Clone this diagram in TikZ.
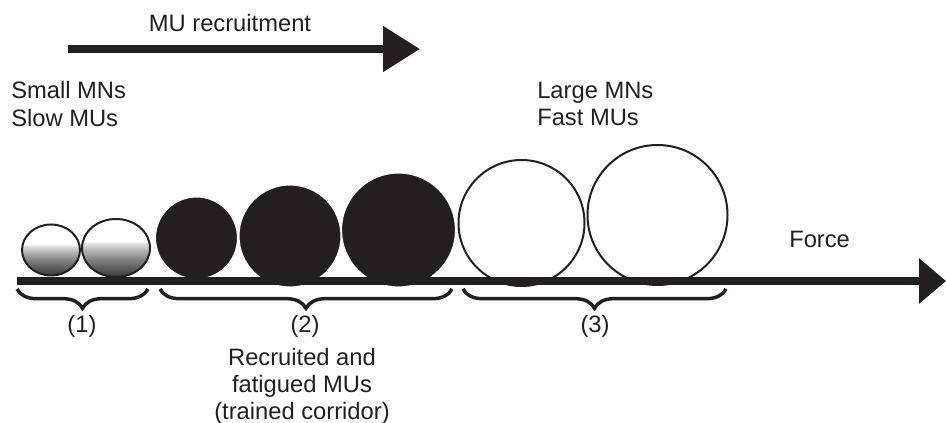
\documentclass[tikz,border=0pt]{standalone}
\usepackage{fontspec}
\setmainfont{Liberation Sans}
\usepackage{xcolor}
\definecolor{muDark}{HTML}{231F20}
\usetikzlibrary{arrows.meta,shapes.geometric,decorations.pathreplacing}
\pgfdeclareverticalshading{muGrad}{100bp}{color(0bp)=(black!78); color(25bp)=(black!78); color(40bp)=(black!50); color(53bp)=(black!15); color(56bp)=(white); color(100bp)=(white)}
\tikzset{
  txt/.style={inner sep=0pt, font=\fontsize{17.8}{20.5}\selectfont, text=muDark},
  slowmu/.style={ellipse, draw=muDark, line width=1.5pt, shade, shading=muGrad, inner sep=0pt},
  fatiguedmu/.style={circle, draw=white, line width=0.8pt, fill=muDark, inner sep=0pt},
  fastmu/.style={circle, draw=muDark, line width=1.5pt, fill=white, inner sep=0pt},
  grpbrace/.style={draw=muDark, line width=2.6pt, decorate, decoration={brace, mirror, amplitude=14.5pt}},
  bigarrow/.style={draw=muDark, line width=6pt, -{Triangle[length=#1, width=33pt]}}
}

\begin{document}
\begin{tikzpicture}[x=0.75pt, y=-0.75pt]
  \useasboundingbox (0,0) rectangle (946,423);
  % recruitment arrow
  \coordinate (recstart) at (68,49);
  \coordinate (recend) at (420,49);
  \draw[bigarrow=27.75pt] (recstart) -- (recend);
  \node[txt, anchor=base] (recruit) at (230,32) {MU recruitment};
  \node[txt, anchor=north west, align=left] (smalltxt) at (11,81.5) {Small MNs\\Slow MUs};
  \node[txt, anchor=north west, align=left] (largetxt) at (537,81.5) {Large MNs\\Fast MUs};
  % motor units
  \node[slowmu, minimum width=43.5pt, minimum height=38.25pt] (small1) at (51,250) {};
  \node[slowmu, minimum width=51pt, minimum height=43.5pt] (small2) at (116,248) {};
  \node[fatiguedmu, minimum size=61.5pt] (mid1) at (196.5,238) {};
  \node[fatiguedmu, minimum size=76.5pt] (mid2) at (290,236) {};
  \node[fatiguedmu, minimum size=85.5pt] (mid3) at (398.5,230) {};
  \node[fastmu, minimum size=94.5pt] (large1) at (521.5,223) {};
  \node[fastmu, minimum size=105pt] (large2) at (657.5,215) {};
  % force axis
  \coordinate (forcestart) at (17,281);
  \coordinate (forceend) at (946,281);
  \draw[bigarrow=20.25pt] (forcestart) -- (forceend);
  \node[txt, anchor=base west] (force) at (789,248) {Force};
  % groups
  \draw[grpbrace] (17,289) -- (148,289);
  \draw[grpbrace] (160,289) -- (452,289);
  \draw[grpbrace] (463,289) -- (726,289);
  \node[txt, anchor=base] (grp1) at (82,333) {(1)};
  \node[txt, anchor=base] (grp2) at (305,333) {(2)};
  \node[txt, anchor=base] (grp3) at (595,333) {(3)};
  \node[txt, anchor=north, align=center, font=\fontsize{17.8}{20.3}\selectfont] (corridor) at (302,348) {Recruited and\\fatigued MUs\\(trained corridor)};
\end{tikzpicture}
\end{document}
